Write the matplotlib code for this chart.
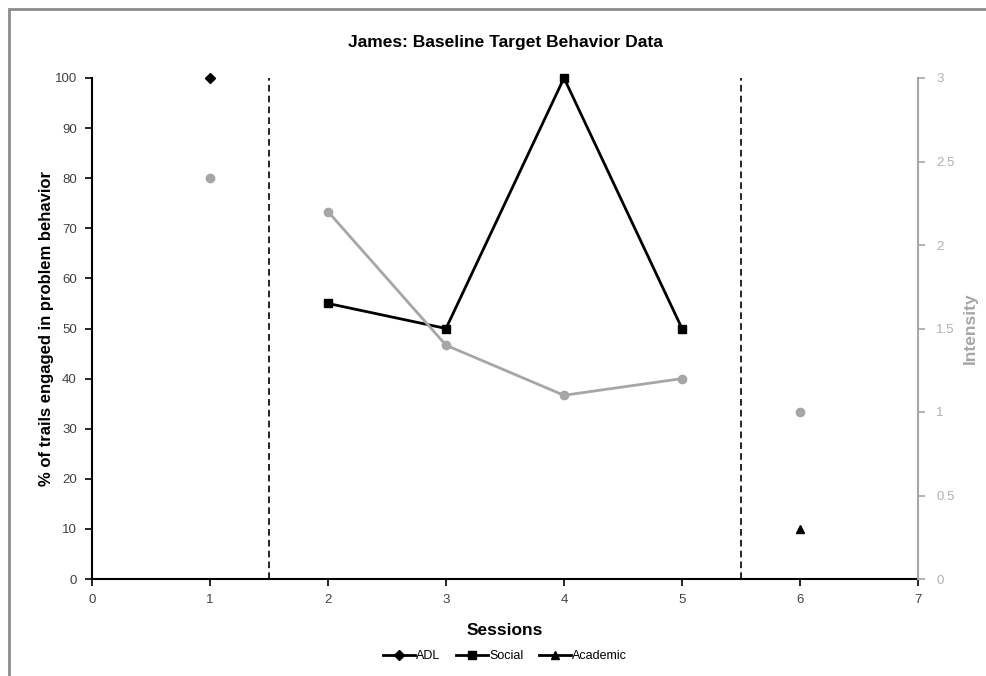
import matplotlib
matplotlib.use("Agg")
import matplotlib.pyplot as plt
from matplotlib.patches import Rectangle

plt.rcParams['font.family'] = ['Liberation Sans', 'DejaVu Sans']

# Data
adl_x = [1]
adl_y = [100]
social_x = [2, 3, 4, 5]
social_y = [55, 50, 100, 50]
academic_x = [6]
academic_y = [10]
intensity_x = [2, 3, 4, 5]
intensity_y = [2.2, 1.4, 1.1, 1.2]
intensity_single_x = [1, 6]
intensity_single_y = [2.4, 1.0]
phase_lines = [1.5, 5.5]

grey = "#a6a6a6"
tick_col = "#404040"

fig = plt.figure(figsize=(9.86, 6.76), dpi=100)
# outer chart frame
fig.patches.append(Rectangle((9 / 986, -0.05), 1.05, 1 - 9 / 676 + 0.05,
                             transform=fig.transFigure, fill=False,
                             edgecolor="#8c8c8c", linewidth=2))

ax = fig.add_axes([92 / 986, 97 / 676, 826 / 986, 501 / 676])
ax2 = ax.twinx()

# Primary series
ax.plot(adl_x, adl_y, color="black", marker="D", markersize=5, lw=2, label="ADL", clip_on=False)
ax.plot(social_x, social_y, color="black", marker="s", markersize=6, lw=2, label="Social", clip_on=False)
ax.plot(academic_x, academic_y, color="black", marker="^", markersize=6, lw=2, label="Academic", clip_on=False)
for xv in phase_lines:
    ax.axvline(xv, color="black", lw=1.2, ls=(0, (4, 2.5)))

# Intensity on secondary axis
ax2.plot(intensity_x, intensity_y, color=grey, marker="o", markersize=6, lw=2, clip_on=False)
ax2.plot(intensity_single_x, intensity_single_y, color=grey, marker="o", markersize=6, lw=0, clip_on=False)

ax.set_xlim(0, 7)
ax.set_ylim(0, 100)
ax2.set_ylim(0, 3)
ax.set_xticks(range(0, 8))
ax.set_yticks(range(0, 101, 10))
ax2.set_yticks([0, 0.5, 1, 1.5, 2, 2.5, 3])
ax2.set_yticklabels(["0", "0.5", "1", "1.5", "2", "2.5", "3"])

for a in (ax, ax2):
    a.spines["top"].set_visible(False)
ax.spines["right"].set_visible(False)
ax.spines["left"].set_linewidth(1.5)
ax.spines["bottom"].set_linewidth(1.5)
ax2.spines["left"].set_visible(False)
ax2.spines["bottom"].set_visible(False)
ax2.spines["right"].set_color(grey)
ax2.spines["right"].set_linewidth(1.5)

ax.tick_params(axis="both", direction="out", length=5, width=1.2, labelsize=9.5,
               labelcolor=tick_col, pad=6)
ax2.tick_params(axis="y", direction="out", length=5, width=1.2, color=grey,
                labelsize=9.5, labelcolor="#b0b0b0", pad=8)

ax.set_title("James: Baseline Target Behavior Data", fontsize=12.5,
             fontweight="bold", pad=22)
ax.set_xlabel("Sessions", fontsize=12.5, fontweight="bold", labelpad=12)
ax.set_ylabel("% of trails engaged in problem behavior", fontsize=12,
              fontweight="bold", labelpad=0)
ax2.set_ylabel("Intensity", fontsize=12.5, fontweight="bold", color=grey, labelpad=6)

fig.legend(loc="center", bbox_to_anchor=(505 / 986, 20 / 676), ncol=3, frameon=False,
           fontsize=9, handlelength=2.6, handletextpad=0.1, columnspacing=1.2)

fig.savefig("out.png", dpi=100)
